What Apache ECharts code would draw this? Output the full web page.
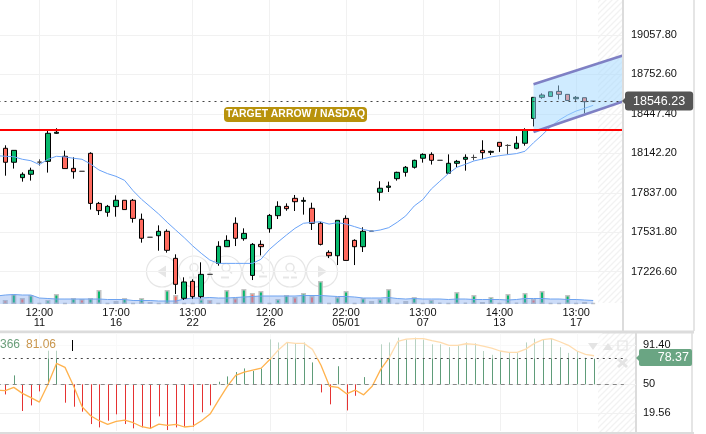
<!DOCTYPE html>
<html lang="en">

<head>
    <meta charset="UTF-8">
    <title>NASDAQ target arrow</title>
    <style>
        html, body { margin: 0; padding: 0; background: #fff; }
        #main { width: 706px; height: 434px; }
    </style>
</head>

<body>
    <div id="main"></div>
    <script src="https://cdn.jsdelivr.net/npm/echarts@6/dist/echarts.min.js"></script>
    <script>
        // index 0 sits just left of the picture, last three slots are empty future space
        var candles = [
            [18100, 18130, 18080, 18150],
            [18181, 18073, 17969, 18204], [18073, 18165, 18024, 18165], [17954, 17980, 17923, 17995], [17980, 18011, 17931, 18031],
            [18074, 18074, 18047, 18096], [18080, 18297, 17993, 18323], [18297, 18305, 18292, 18336], [18119, 18024, 18024, 18163],
            [18026, 18000, 17946, 18111], [18003, 18003, 18003, 18003], [18142, 17755, 17707, 18150], [17755, 17699, 17665, 17766],
            [17686, 17732, 17652, 17743], [17730, 17779, 17652, 17817], [17779, 17707, 17707, 17779], [17779, 17639, 17606, 17789],
            [17632, 17485, 17451, 17676], [17493, 17493, 17493, 17493], [17505, 17539, 17389, 17585], [17539, 17392, 17374, 17554],
            [17330, 17129, 17054, 17361], [17021, 17147, 17008, 17183], [17152, 17034, 17018, 17168], [17034, 17206, 17021, 17299],
            [17206, 17206, 17206, 17206], [17291, 17423, 17273, 17462], [17420, 17469, 17420, 17508], [17601, 17485, 17425, 17647],
            [17482, 17523, 17466, 17562], [17198, 17438, 17162, 17448], [17438, 17420, 17353, 17469], [17559, 17662, 17528, 17673],
            [17660, 17732, 17634, 17771], [17732, 17714, 17698, 17755], [17794, 17768, 17696, 17820], [17771, 17778, 17668, 17802],
            [17717, 17601, 17549, 17760], [17601, 17438, 17430, 17613], [17376, 17350, 17332, 17392], [17350, 17624, 17278, 17624],
            [17639, 17314, 17312, 17662], [17469, 17420, 17278, 17477], [17420, 17539, 17379, 17570], [17540, 17540, 17540, 17540],
            [17841, 17872, 17776, 17926], [17879, 17889, 17843, 17923], [17946, 17995, 17931, 18000], [17995, 18034, 17962, 18044],
            [18034, 18088, 18024, 18093], [18104, 18134, 18070, 18142], [18134, 18088, 18055, 18150], [18088, 18088, 18088, 18088],
            [17988, 18065, 17982, 18134], [18065, 18080, 18034, 18091], [18096, 18111, 18008, 18134], [18110, 18110, 18088, 18132],
            [18165, 18147, 18096, 18243], [18150, 18157, 18129, 18163], [18227, 18196, 18153, 18227], [18203, 18203, 18134, 18212],
            [18181, 18220, 18173, 18274], [18220, 18320, 18201, 18336], [18412, 18575, 18350, 18575], [18575, 18593, 18564, 18606],
            [18582, 18618, 18582, 18618], [18621, 18598, 18559, 18667], [18598, 18551, 18551, 18598], [18564, 18575, 18538, 18585],
            [18572, 18541, 18451, 18572], [18546, 18546, 18546, 18546]
        ];
        var priceMA = [18124, 18119, 18116, 18096, 18085, 18055, 18096, 18119, 18114, 18104, 18096, 18060, 18013, 17985, 17964, 17933,
            17853, 17786, 17730, 17673, 17609, 17549, 17490, 17426, 17369, 17317, 17291, 17291, 17291, 17291, 17291, 17322, 17399,
            17456, 17510, 17562, 17601, 17608, 17613, 17595, 17606, 17595, 17575, 17554, 17539, 17549, 17567, 17609, 17658, 17735,
            17784, 17866, 17926, 17985, 18034, 18057, 18083, 18098, 18114, 18124, 18132, 18140, 18158, 18224, 18283, 18348, 18399,
            18438, 18469, 18490, 18513];
        var volumes = [4, 4, 10, 6, 9, 1, 4, 10, 1, 6, 5, 6, 14, 1, 3, 6, 1, 6, 2, 1, 14, 9, 1, 1, 5, 4, 1, 14, 6, 15, 11, 13, 1, 5, 9, 7,
            11, 8, 23, 1, 7, 13, 1, 6, 3, 5, 15, 1, 3, 7, 1, 4, 1.5, 1, 12, 1.5, 9, 2, 7, 1, 10, 1.5, 11, 5, 13, 1, 1, 9, 1, 2, 1];
        // 1 = green volume bar, 0 = red
        var volumeUp = [1, 0, 1, 0, 1, 1, 1, 1, 0, 1, 0, 1, 1, 0, 1, 1, 0, 1, 0, 0, 1, 0, 1, 1, 1, 0, 1, 1, 0, 1, 0, 1, 1, 1, 1, 0,
            1, 0, 1, 0, 1, 1, 0, 1, 0, 1, 1, 0, 1, 1, 0, 1, 0, 0, 1, 0, 1, 0, 1, 0, 1, 0, 1, 0, 1, 0, 1, 1, 0, 1, 1];
        var volumeMA = [8, 9, 9.5, 9, 9, 6, 5.5, 5, 5, 5, 5, 5, 5, 4.5, 4.5, 4.5, 3.5, 3.5, 3.5, 3, 3, 3, 5, 6, 6, 6.5, 6, 6, 6.5, 7, 7.5,
            8, 8, 8, 8, 8, 8.5, 8.5, 8.5, 8, 7.5, 7.5, 7, 6, 6, 6, 6.5, 5.5, 5, 5.5, 5, 5, 5, 4.5, 5, 5, 4.5, 4.5, 4.5, 4.5, 4, 4.5,
            5.5, 5.5, 5.5, 5, 5, 4.5, 4.5, 4, 3.5];
        var oscBars = [50, 39.4, 59.4, 22, 27.9, 42.6, 85.3, 85.3, 30.7, 26.5, 21.3, 8.3, 4.8, 11.8, 18.5, 8.3, 3.8, 4.8, 3.8, 16.4, 2, 4.8,
            5.5, 5.5, 20.6, 27.9, 52.7, 58.3, 62.9, 66.7, 64, 66.7, 97.2, 94, 94, 93, 94, 73, 41.5, 29, 69, 22.6, 38, 57.6, 50, 92, 94,
            99, 97, 99, 97, 92, 92, 89, 91, 94, 93, 85, 81, 85, 83, 83, 94, 98, 97, 98, 89, 83, 85, 78, 77];
        var oscLine = [44, 43.3, 46.8, 40.5, 36, 31.4, 50, 72, 67.8, 48.2, 26.5, 17, 11.8, 8, 11, 12.5, 9.7, 5.5, 3.8, 8.3, 6.9, 8, 5.2, 6.2,
            11.8, 18.8, 33.5, 47.5, 59.4, 62.9, 65, 67, 76, 86, 94, 93, 93, 86.7, 70, 48, 46.8, 40, 44, 39, 48, 65.7, 78, 95, 97.5, 98,
            98, 95.8, 94, 91, 91, 92.6, 92, 90, 88, 85, 83.5, 83.5, 87, 93, 97, 98, 94.7, 91, 85, 81.5, 80];

        var priceTicks = [19057.8, 18752.6, 18447.4, 18142.2, 17837, 17531.8, 17226.6];
        var oscTicks = [91.4, 50, 19.56];
        var timeTickIndex = [5, 14, 23, 32, 41, 50, 59, 68];
        var timeTickLabels = ['12:00\n11', '17:00\n16', '13:00\n22', '12:00\n26', '22:00\n05/01', '13:00\n07', '14:00\n13', '13:00\n17'];

        var targetLevel = 18322;
        var lastPrice = 18546.23;
        var channelX = [63, 73.5];
        var channelUpper = [18676, 18910];
        var channelLower = [18307, 18554];
        var oscOverbought = 77;
        var oscMid = 50;

        var GREEN = '#06b86c', RED = '#ff6a5e', FONT = '"Liberation Sans", Arial, sans-serif';
        var SLOTS = 74;

        var categories = [];
        for (var i = 0; i < SLOTS; i++) {
            var at = timeTickIndex.indexOf(i);
            categories.push(at >= 0 ? timeTickLabels[at] : String(i));
        }

        function hatch() {
            var c = document.createElement('canvas');
            c.width = c.height = 6;
            var g = c.getContext('2d');
            g.strokeStyle = '#f2f2f2';
            g.lineWidth = 1.3;
            g.beginPath();
            g.moveTo(-2, 8); g.lineTo(8, -2);
            g.moveTo(-2, 2); g.lineTo(2, -2);
            g.moveTo(4, 8); g.lineTo(8, 4);
            g.stroke();
            return { image: c, repeat: 'repeat' };
        }

        var chart = echarts.init(document.getElementById('main'), null, { renderer: 'canvas' });

        function chrome() {
            var pattern = hatch(), els = [], CH = '#dcdcdc';
            function line(x1, y1, x2, y2, w, col, z) {
                els.push({ type: 'line', z: z || 0, shape: { x1: x1, y1: y1, x2: x2, y2: y2 }, style: { stroke: col || CH, lineWidth: w || 2 } });
            }
            els.push({ type: 'rect', shape: { x: 598, y: 0, width: 25, height: 303 }, style: { fill: pattern } });
            els.push({ type: 'rect', shape: { x: 598, y: 333, width: 38, height: 99 }, style: { fill: pattern } });
            line(623, 0, 623, 331, 2, CH, 12); line(694, 0, 694, 331, 1.5);
            line(0, 332, 694, 332, 3); line(636, 332, 636, 433, 2); line(692, 332, 692, 433, 1.5);
            line(0, 433, 694, 433, 2);

            // zoom/scroll buttons
            [162, 194, 226, 258, 290, 322].forEach(function (cx, k) {
                var cy = 271.5, col = '#e6e6e6';
                els.push({ type: 'circle', shape: { cx: cx, cy: cy, r: 15.5 }, style: { fill: 'rgba(255,255,255,.25)', stroke: col, lineWidth: 1.2 } });
                if (k == 0) els.push({ type: 'polygon', shape: { points: [[cx + 4, cy - 6], [cx - 5, cy], [cx + 4, cy + 6]] }, style: { fill: col } });
                else if (k == 5) els.push({ type: 'polygon', shape: { points: [[cx - 4, cy - 6], [cx + 5, cy], [cx - 4, cy + 6]] }, style: { fill: col } });
                else {
                    els.push({ type: 'circle', shape: { cx: cx, cy: cy - 4, r: 4 }, style: { fill: 'none', stroke: col, lineWidth: 1.5 } });
                    line(cx + 3, cy - 1, cx + 6, cy + 2, 1.5, col);
                    if (k == 1) { line(cx - 5, cy + 6, cx + 3, cy + 6, 2, col); line(cx - 1, cy + 2, cx - 1, cy + 10, 2, col); }
                    if (k == 2) line(cx - 5, cy + 6, cx + 3, cy + 6, 2, col);
                    if (k == 3) line(cx + 1, cy + 5, cx + 9, cy + 5, 2, col);
                    if (k == 4) { line(cx - 7, cy + 6, cx - 1, cy + 6, 2, col); line(cx + 1, cy + 6, cx + 7, cy + 6, 2, col); }
                }
            });

            // target badge
            els.push({ type: 'rect', z: 20, shape: { x: 224, y: 107, width: 143, height: 15, r: 4 }, style: { fill: '#b8920c' } });
            els.push({ type: 'text', z: 21, x: 295.5, y: 114.5, style: { text: 'TARGET ARROW / NASDAQ', fill: '#fff', font: 'bold 10.4px ' + FONT, align: 'center', verticalAlign: 'middle' } });

            // price tag pointer
            els.push({ type: 'polygon', z: 20, shape: { points: [[622, 101], [627, 96], [627, 106]] }, style: { fill: '#555' } });

            // oscillator header
            els.push({ type: 'text', z: 21, x: 0, y: 345, style: { text: '366', fill: '#6a9e7a', font: '12px ' + FONT, verticalAlign: 'middle' } });
            els.push({ type: 'text', z: 21, x: 26, y: 345, style: { text: '81.06', fill: '#c9964d', font: '12px ' + FONT, verticalAlign: 'middle' } });
            line(72.5, 340, 72.5, 351, 1, '#000', 21);

            // oscillator toolbar icons
            var ic = '#e4e4e4';
            els.push({ type: 'polygon', z: 21, shape: { points: [[588, 343], [598, 343], [593, 350]] }, style: { fill: ic } });
            els.push({ type: 'polygon', z: 21, shape: { points: [[603, 350], [613, 350], [608, 343]] }, style: { fill: ic } });
            els.push({ type: 'rect', z: 21, shape: { x: 618, y: 341, width: 9, height: 9 }, style: { fill: 'none', stroke: ic, lineWidth: 1.2 } });
            line(618, 359, 627, 367, 3, ic, 21); line(627, 359, 618, 367, 3, ic, 21);

            // oscillator value tag
            els.push({ type: 'rect', z: 20, shape: { x: 639, y: 349, width: 53, height: 17, r: 2 }, style: { fill: '#6aa583' } });
            els.push({ type: 'polygon', z: 20, shape: { points: [[636, 358], [640, 354], [640, 362]] }, style: { fill: '#6aa583' } });
            els.push({ type: 'text', z: 21, x: 689, y: 358, style: { text: '78.37', fill: '#fff', font: '12.5px ' + FONT, align: 'right', verticalAlign: 'middle' } });
            return els;
        }

        chart.setOption({
            animation: false,
            backgroundColor: '#fff',
            textStyle: { fontFamily: FONT },
            graphic: chrome(),
            grid: [
                { left: -7.5, top: 0, width: 630.5, height: 303, outerBoundsMode: 'none' },
                { left: -7.5, top: 271, width: 630.5, height: 33, outerBoundsMode: 'none' },
                { left: -7.5, top: 333, width: 643.5, height: 98, outerBoundsMode: 'none' }
            ],
            xAxis: [
                {
                    type: 'category', gridIndex: 0, data: categories,
                    axisLine: { show: false },
                    axisTick: { show: false, alignWithLabel: true, customValues: timeTickIndex },
                    splitLine: { show: true, alignWithLabel: true, lineStyle: { color: '#f1f1f1' } },
                    axisLabel: { customValues: timeTickIndex, color: '#111', fontSize: 11, lineHeight: 10, margin: 5 }
                },
                { type: 'category', gridIndex: 1, data: categories, show: false },
                {
                    type: 'value', gridIndex: 2, min: -0.5, max: 74.92,
                    axisLine: { show: false },
                    axisTick: { show: false, customValues: timeTickIndex },
                    splitLine: { show: true, lineStyle: { color: '#f1f1f1' } },
                    axisLabel: { show: false }
                }
            ],
            yAxis: [
                {
                    type: 'value', gridIndex: 0, position: 'right', min: 16984.6, max: 19327.7,
                    axisLine: { show: false },
                    axisTick: { show: false, customValues: priceTicks },
                    splitLine: { show: true, lineStyle: { color: '#f1f1f1' } },
                    axisLabel: {
                        customValues: priceTicks, color: '#111', fontSize: 11, margin: 8,
                        formatter: function (v) { return v.toFixed(2); }
                    }
                },
                { type: 'value', gridIndex: 1, min: 0, max: 33, show: false },
                {
                    type: 'value', gridIndex: 2, position: 'right', min: 1, max: 103.9,
                    axisLine: { show: false },
                    axisTick: { show: false, customValues: oscTicks },
                    splitLine: { show: true, lineStyle: { color: '#f1f1f1' } },
                    axisLabel: {
                        customValues: oscTicks, color: '#111', fontSize: 11, margin: 7,
                        formatter: function (v) { return v == oscMid ? '50' : v.toFixed(2); }
                    }
                }
            ],
            series: [
                {
                    type: 'candlestick', data: candles, barWidth: 5, z: 3, xAxisIndex: 0, yAxisIndex: 0,
                    itemStyle: { color: GREEN, color0: RED, borderColor: '#000', borderColor0: '#000', borderColorDoji: '#444', borderWidth: 1 },
                    markLine: {
                        silent: true, symbol: 'none', precision: 2, z: 11,
                        label: { show: false },
                        lineStyle: { color: '#444', type: [2, 4], width: 1 },
                        data: [{
                            yAxis: lastPrice,
                            label: {
                                show: true, position: 'end', distance: 2, formatter: lastPrice.toFixed(2), color: '#fff', fontSize: 12.5,
                                backgroundColor: '#555', borderRadius: 3, padding: [3, 8, 3, 8]
                            }
                        }]
                    }
                },
                {
                    type: 'line', data: priceMA, xAxisIndex: 0, yAxisIndex: 0, z: 4, symbol: 'none',
                    lineStyle: { color: '#69a2f7', width: 1 }
                },
                {
                    type: 'custom', xAxisIndex: 0, yAxisIndex: 0, z: 5, data: [[0]], silent: true, clip: true,
                    renderItem: function (params, api) {
                        var a = api.coord([channelX[0], channelUpper[0]]), b = api.coord([channelX[1], channelUpper[1]]);
                        var c = api.coord([channelX[1], channelLower[1]]), d = api.coord([channelX[0], channelLower[0]]);
                        var edge = { stroke: '#7f80c4', lineWidth: 2.5 };
                        return {
                            type: 'group', children: [
                                { type: 'polygon', shape: { points: [a, b, c, d] }, style: { fill: 'rgba(160,215,255,.5)' } },
                                { type: 'line', shape: { x1: a[0], y1: a[1], x2: b[0], y2: b[1] }, style: edge },
                                { type: 'line', shape: { x1: d[0], y1: d[1], x2: c[0], y2: c[1] }, style: edge }
                            ]
                        };
                    }
                },
                {
                    type: 'line', data: [], xAxisIndex: 0, yAxisIndex: 0, z: 6,
                    markLine: {
                        silent: true, symbol: 'none', label: { show: false }, z: 10,
                        lineStyle: { color: '#f00', type: 'solid', width: 2 },
                        data: [{ yAxis: targetLevel }]
                    }
                },
                {
                    type: 'bar', data: volumes.map(function (v, k) {
                        return { value: v, itemStyle: { color: volumeUp[k] ? GREEN : RED } };
                    }), xAxisIndex: 1, yAxisIndex: 1, barWidth: 5, z: 2,
                    itemStyle: { borderColor: '#c4c4c4', borderWidth: 1.5 }
                },
                {
                    type: 'line', data: volumeMA, xAxisIndex: 1, yAxisIndex: 1, z: 3, symbol: 'none',
                    lineStyle: { color: '#6ea3f0', width: 1 },
                    areaStyle: { color: 'rgba(110,155,235,.5)', origin: 'start' }
                },
                {
                    type: 'custom', xAxisIndex: 2, yAxisIndex: 2, z: 3, silent: true,
                    data: oscBars.map(function (v, k) { return [k, v]; }),
                    encode: { x: 0, y: 1 },
                    renderItem: function (params, api) {
                        var v = api.value(1), base = api.coord([api.value(0), oscMid]), tip = api.coord([api.value(0), v]);
                        var px = Math.round(base[0]) + 0.5;
                        return {
                            type: 'line', shape: { x1: px, y1: base[1], x2: px, y2: tip[1] },
                            style: { stroke: v >= oscMid ? '#5f9c79' : '#e53232', lineWidth: 1 }
                        };
                    }
                },
                {
                    type: 'line', xAxisIndex: 2, yAxisIndex: 2, z: 4, symbol: 'none',
                    data: oscLine.map(function (v, k) { return [k, v]; }),
                    lineStyle: { color: '#ffb24d', width: 1.3 },
                    markLine: {
                        silent: true, symbol: 'none', label: { show: false }, z: 8,
                        data: [
                            [{ coord: [0, oscOverbought], lineStyle: { color: '#444', type: [2, 4], width: 1 } }, { coord: [73.5, oscOverbought] }],
                            [{ coord: [0, oscMid], lineStyle: { color: '#888', type: [4, 4], width: 1 } }, { coord: [73.5, oscMid] }]
                        ]
                    }
                },
                {
                    // bars and line fade above the overbought level
                    type: 'custom', xAxisIndex: 2, yAxisIndex: 2, z: 6, silent: true, data: [[0]],
                    renderItem: function (params, api) {
                        var a = api.coord([-0.5, 103.9]), b = api.coord([71, oscOverbought]);
                        return {
                            type: 'rect', shape: { x: a[0], y: a[1], width: b[0] - a[0], height: b[1] - a[1] },
                            style: { fill: 'rgba(255,255,255,.55)' }
                        };
                    }
                }
            ]
        });
    </script>
</body>

</html>
